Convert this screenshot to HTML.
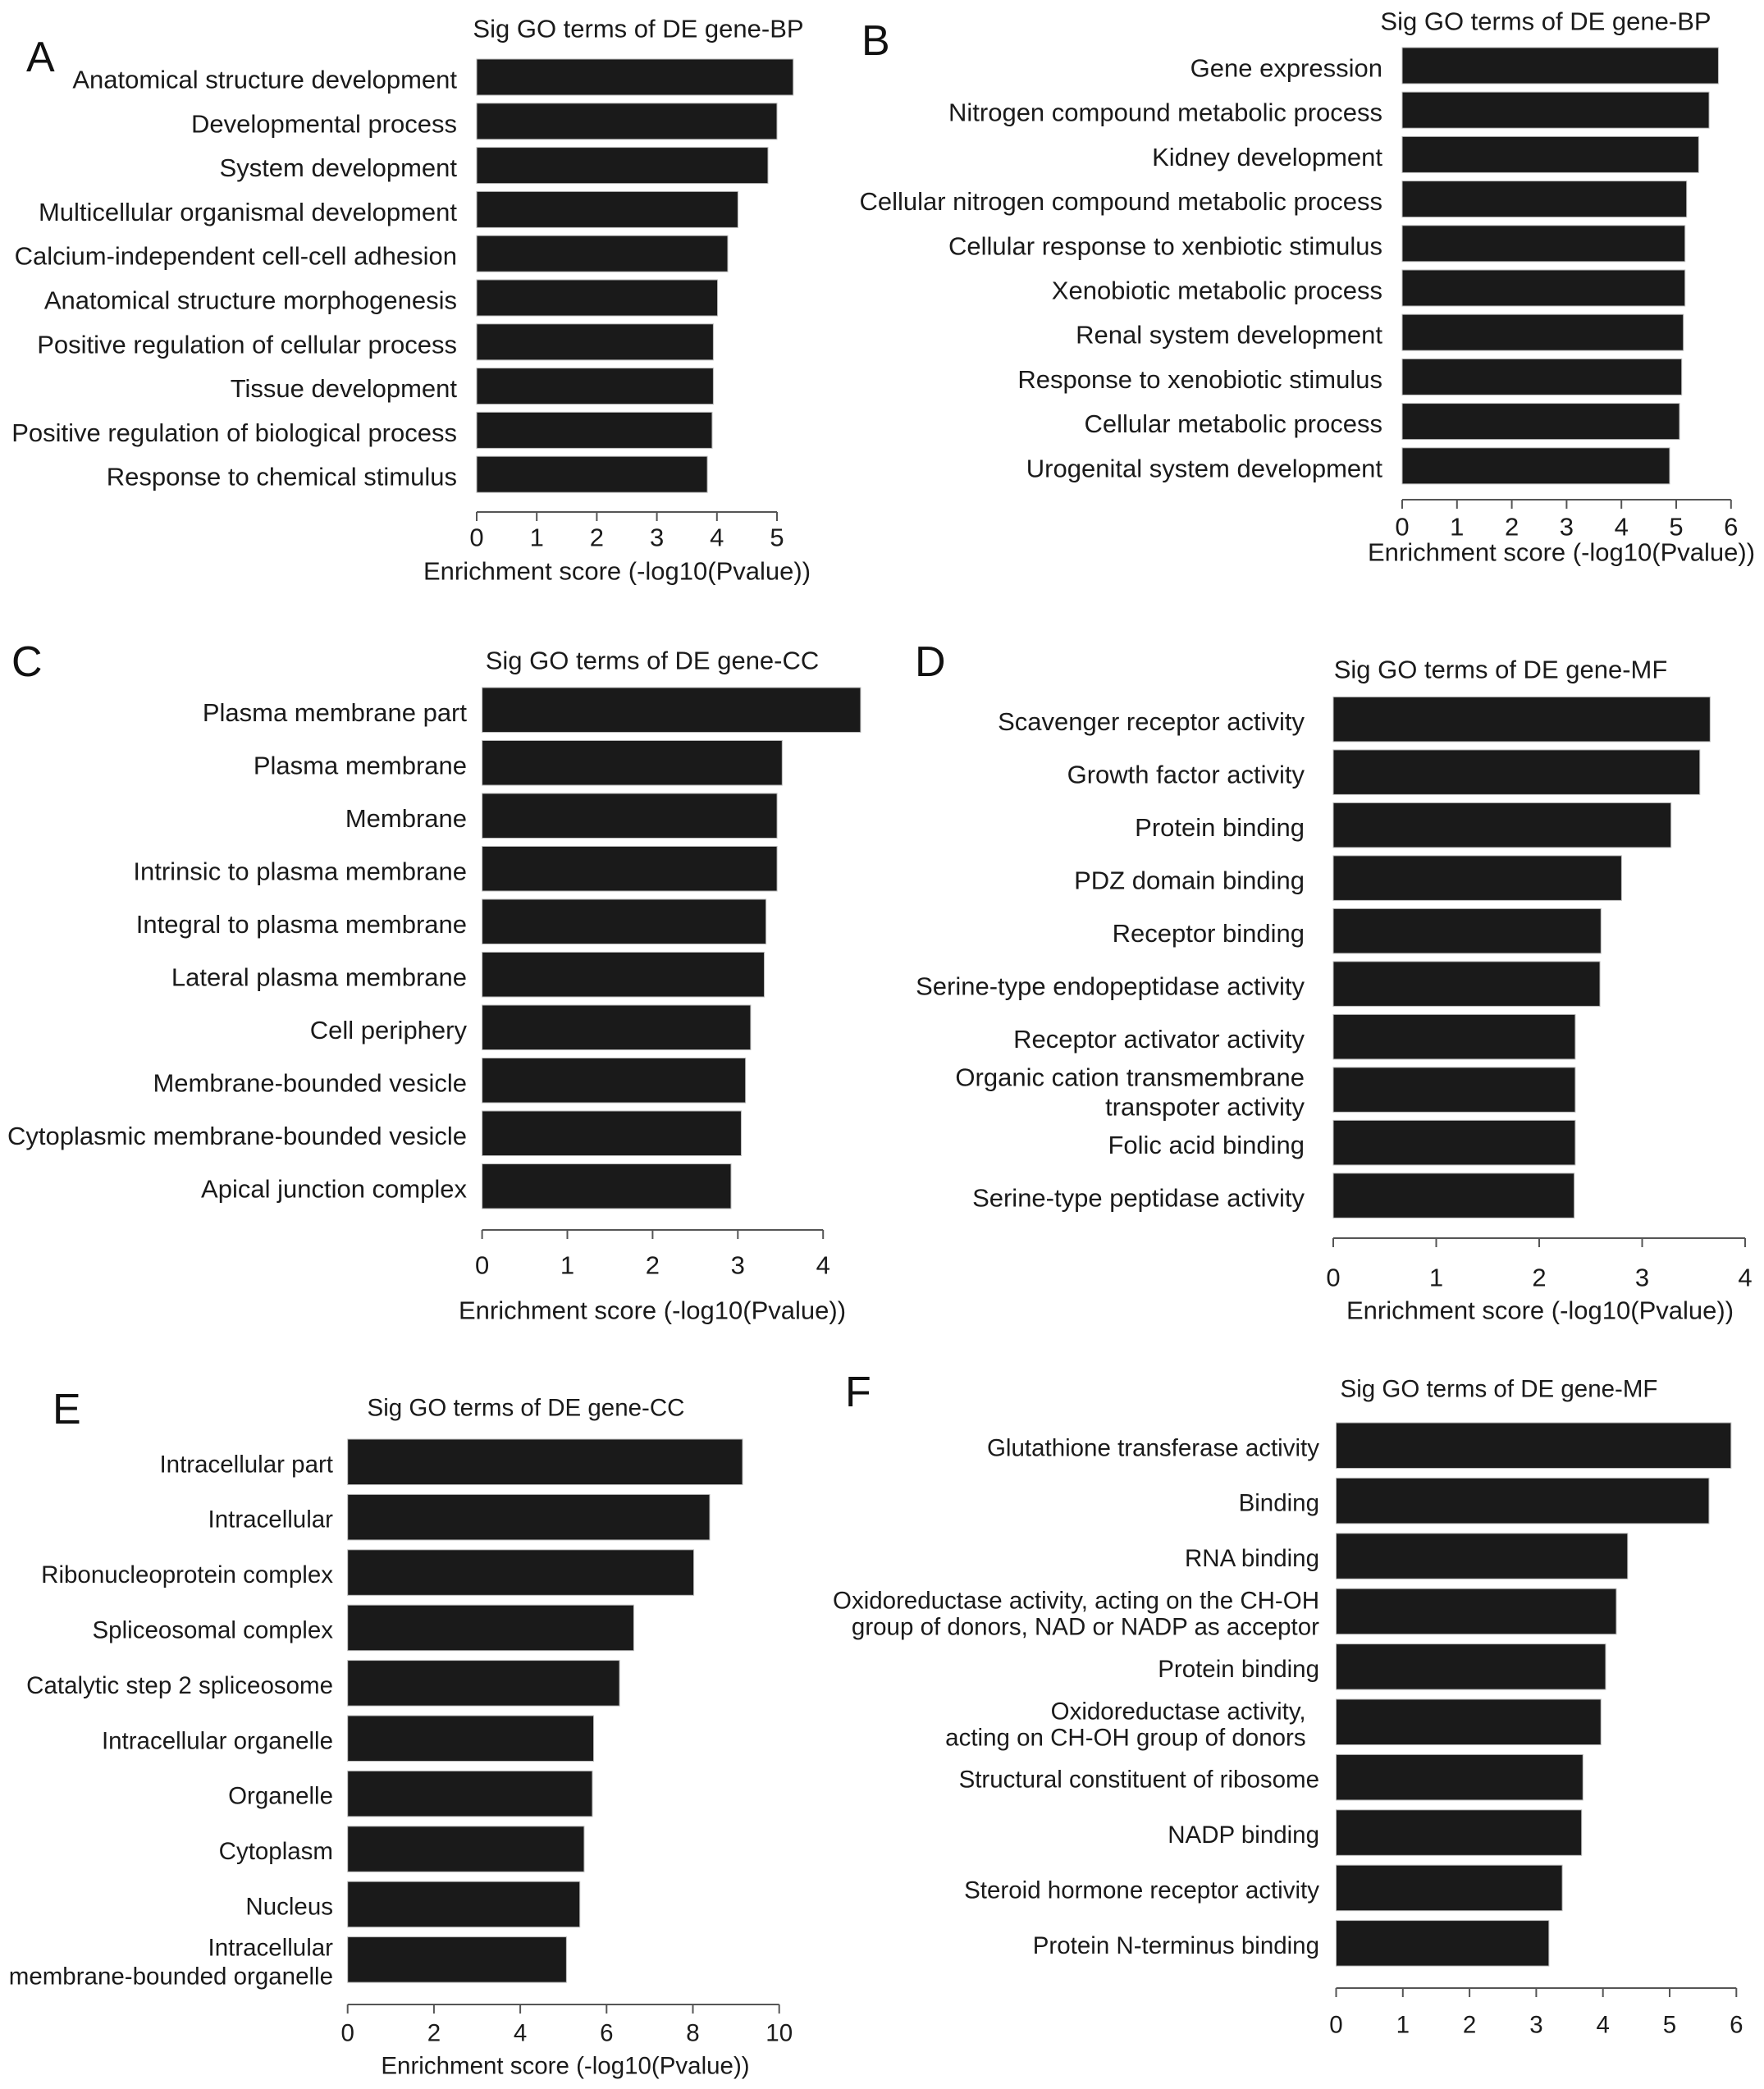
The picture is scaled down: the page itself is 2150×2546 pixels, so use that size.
<!DOCTYPE html>
<html><head><meta charset="utf-8"><style>
html,body{margin:0;padding:0;background:#fff;}
svg{display:block;font-family:"Liberation Sans",Arial,sans-serif;}
</style></head><body>
<svg id="fig" width="2150" height="2546" viewBox="0 0 2150 2546" xmlns="http://www.w3.org/2000/svg">
<rect width="2150" height="2546" fill="#fff"/>
</svg>
<script>
const catsA=["Anatomical structure development","Developmental process","System development","Multicellular organismal development","Calcium-independent cell-cell adhesion","Anatomical structure morphogenesis","Positive regulation of cellular process","Tissue development","Positive regulation of biological process","Response to chemical stimulus"];
const valsA=[5.27,5.0,4.85,4.35,4.18,4.01,3.94,3.94,3.92,3.84];
const ticksA=[0,1,2,3,4,5];
const catsB=["Gene expression","Nitrogen compound metabolic process","Kidney development","Cellular nitrogen compound metabolic process","Cellular response to xenbiotic stimulus","Xenobiotic metabolic process","Renal system development","Response to xenobiotic stimulus","Cellular metabolic process","Urogenital system development"];
const valsB=[5.77,5.60,5.41,5.19,5.16,5.16,5.13,5.10,5.06,4.88];
const ticksB=[0,1,2,3,4,5,6];
const catsC=["Plasma membrane part","Plasma membrane","Membrane","Intrinsic to plasma membrane","Integral to plasma membrane","Lateral plasma membrane","Cell periphery","Membrane-bounded vesicle","Cytoplasmic membrane-bounded vesicle","Apical junction complex"];
const valsC=[4.44,3.52,3.46,3.46,3.33,3.31,3.15,3.09,3.04,2.92];
const ticksC=[0,1,2,3,4];
const catsD=["Scavenger receptor activity","Growth factor activity","Protein binding","PDZ domain binding","Receptor binding","Serine-type endopeptidase activity","Receptor activator activity","Organic cation transmembrane|transpoter activity","Folic acid binding","Serine-type peptidase activity"];
const valsD=[3.66,3.56,3.28,2.80,2.60,2.59,2.35,2.35,2.35,2.34];
const ticksD=[0,1,2,3,4];
const catsE=["Intracellular part","Intracellular","Ribonucleoprotein complex","Spliceosomal complex","Catalytic step 2 spliceosome","Intracellular organelle","Organelle","Cytoplasm","Nucleus","Intracellular|membrane-bounded organelle"];
const valsE=[9.15,8.39,8.02,6.63,6.30,5.70,5.67,5.48,5.38,5.07];
const ticksE=[0,2,4,6,8,10];
const catsF=["Glutathione transferase activity","Binding","RNA binding","Oxidoreductase activity, acting on the CH-OH|group of donors, NAD or NADP as acceptor","Protein binding","Oxidoreductase activity,\u00a0\u00a0|acting on CH-OH group of donors\u00a0\u00a0","Structural constituent of ribosome","NADP binding","Steroid hormone receptor activity","Protein N-terminus binding"];
const valsF=[5.92,5.59,4.37,4.20,4.04,3.97,3.70,3.68,3.39,3.19];
const ticksF=[0,1,2,3,4,5,6];

const NS="http://www.w3.org/2000/svg";
const svg=document.getElementById('fig');
function mk(tag,attrs,parent){const e=document.createElementNS(NS,tag);for(const k in attrs)e.setAttribute(k,attrs[k]);(parent||svg).appendChild(e);return e;}

function panel(p,cats,vals,ticks){
  const fs=p.fs||31;
  const g=mk('g',{});
  
  
  const xs=v=>p.x0+v*p.unit;
  const L=mk('text',{x:p.lx,y:p.ly,'font-size':52,'dominant-baseline':'central',fill:'#111'},g);
  
  
  L.textContent=p.id;
  const T=mk('text',{x:p.tx,y:p.ty,'font-size':fs,'text-anchor':'middle','dominant-baseline':'central',fill:'#1a1a1a'},g);
  
  
  T.textContent=p.title;
  cats.forEach((c,i)=>{
    const y=p.top+i*p.pitch;
    const r=mk('rect',{x:p.x0,y:y,width:xs(vals[i])-p.x0,height:p.h,fill:'#1a1a1a',stroke:'#bbb','stroke-width':1},g);
    
    
    const cy=y+p.h/2+3;
    const lines=c.split('|');
    lines.forEach((ln,j)=>{
      const off=lines.length===1?0:(j===0?-p.dl:p.dl);
      const t=mk('text',{x:p.lr,y:cy+off,'font-size':fs,'text-anchor':'end','dominant-baseline':'central',fill:'#1a1a1a'},g);
      
      
      t.textContent=ln;
    });
  });
  const ax=mk('line',{x1:xs(ticks[0]),x2:xs(ticks[ticks.length-1]),y1:p.ay,y2:p.ay,stroke:'#555','stroke-width':2},g);
  
  
  ticks.forEach(tv=>{
    const tk=mk('line',{x1:xs(tv),x2:xs(tv),y1:p.ay,y2:p.ay+11,stroke:'#555','stroke-width':2},g);
    
    
    const tl=mk('text',{x:xs(tv),y:p.tly,'font-size':fs,'text-anchor':'middle','dominant-baseline':'central',fill:'#1a1a1a'},g);
    
    
    tl.textContent=tv;
  });
  if(p.atx){
    const at=mk('text',{x:p.atx,y:p.aty,'font-size':fs,'text-anchor':'middle','dominant-baseline':'central',fill:'#1a1a1a'},g);
    
    
    at.textContent='Enrichment score (-log10(Pvalue))';
  }
}

panel({id:'A',title:'Sig GO terms of DE gene-BP',x0:581,unit:73.2,top:72,pitch:53.8,h:44,ay:624,tly:655,atx:752,aty:696,tx:778,ty:35,lx:32,ly:70,lr:557,dl:17},catsA,valsA,ticksA);
panel({id:'B',title:'Sig GO terms of DE gene-BP',x0:1709,unit:66.8,top:58,pitch:54.2,h:44,ay:609,tly:642,atx:1903,aty:673,tx:1884,ty:26,lx:1050,ly:50,lr:1685,dl:17},catsB,valsB,ticksB);
panel({id:'C',title:'Sig GO terms of DE gene-CC',x0:587.6,unit:103.9,top:838,pitch:64.5,h:54.5,ay:1499,tly:1542,atx:795,aty:1597,tx:795,ty:805,lx:14,ly:807,lr:569,dl:18},catsC,valsC,ticksC);
panel({id:'D',title:'Sig GO terms of DE gene-MF',x0:1625,unit:125.5,top:849.4,pitch:64.5,h:54.5,ay:1509,tly:1557,atx:1877,aty:1597,tx:1829,ty:816,lx:1115,ly:807,lr:1590,dl:18},catsD,valsD,ticksD);
panel({id:'E',fs:29.5,title:'Sig GO terms of DE gene-CC',x0:423.7,unit:52.6,top:1754,pitch:67.4,h:55.5,ay:2443,tly:2478,atx:689,aty:2518,tx:641,ty:1716,lx:64,ly:1718,lr:406,dl:17.5},catsE,valsE,ticksE);
panel({id:'F',fs:29.5,title:'Sig GO terms of DE gene-MF',x0:1628.5,unit:81.3,top:1734,pitch:67.4,h:55.5,ay:2423,tly:2468,atx:0,aty:0,tx:1827,ty:1693,lx:1030,ly:1697,lr:1608,dl:16},catsF,valsF,ticksF);
</script>
</body></html>
